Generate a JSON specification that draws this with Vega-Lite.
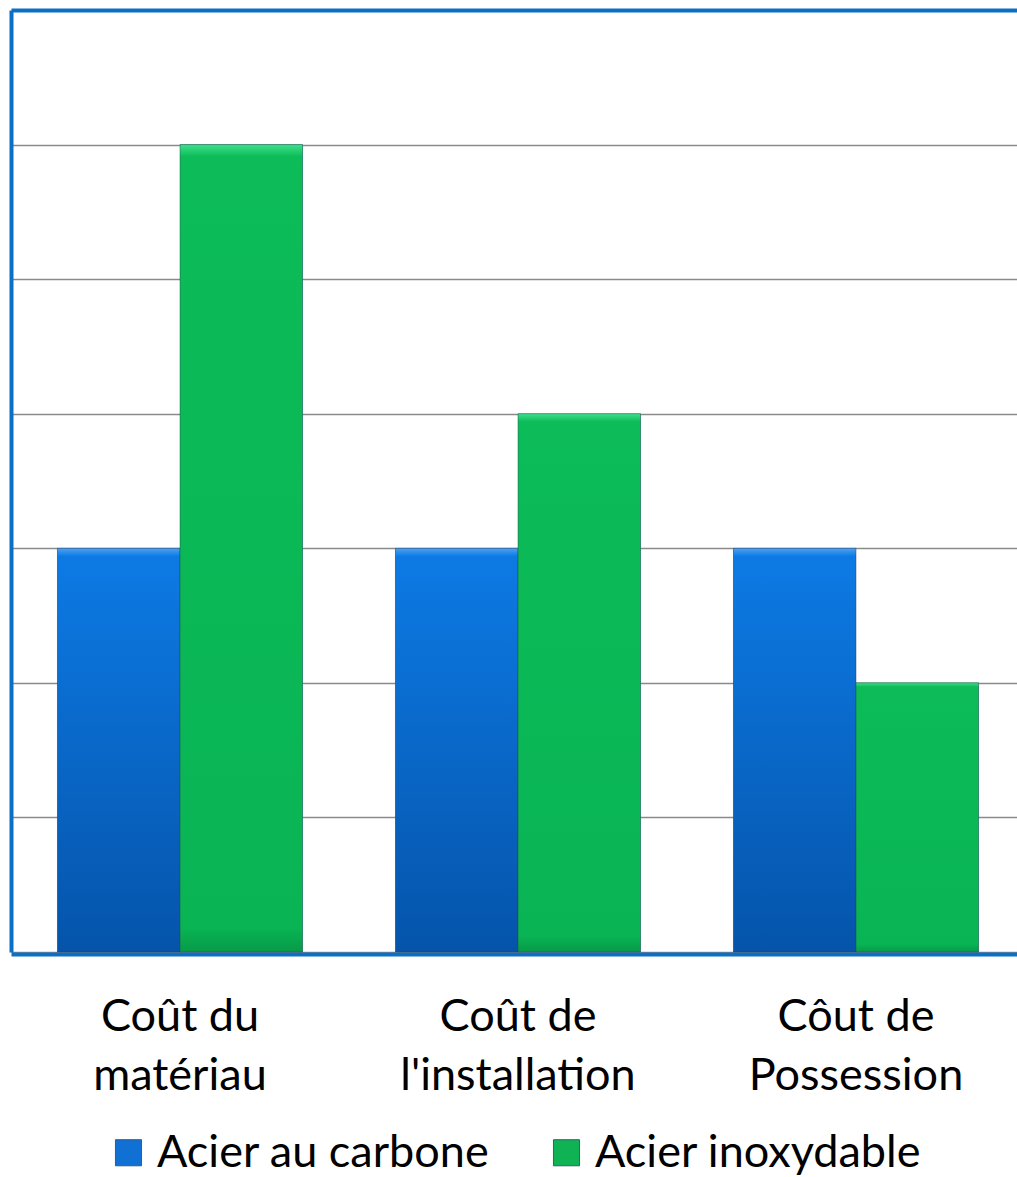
{
  "$schema": "https://vega.github.io/schema/vega-lite/v6.json",
  "width": 1006,
  "height": 942,
  "autosize": {"type": "none"},
  "padding": {"left": 11, "top": 10, "right": 0, "bottom": 225},
  "background": "white",
  "config": {
    "view": {"stroke": null},
    "font": "Lato",
    "legend": {"layout": {"bottom": {"anchor": "middle"}}}
  },
  "data": {
    "values": [
      {"cout": "Coût du matériau", "serie": "Acier au carbone", "valeur": 3},
      {"cout": "Coût du matériau", "serie": "Acier inoxydable", "valeur": 6},
      {"cout": "Coût de l'installation", "serie": "Acier au carbone", "valeur": 3},
      {"cout": "Coût de l'installation", "serie": "Acier inoxydable", "valeur": 4},
      {"cout": "Côut de Possession", "serie": "Acier au carbone", "valeur": 3},
      {"cout": "Côut de Possession", "serie": "Acier inoxydable", "valeur": 2}
    ]
  },
  "encoding": {
    "x": {
      "field": "cout",
      "type": "nominal",
      "sort": null,
      "scale": {"range": [0, 1014], "paddingInner": 0.275, "paddingOuter": 0.1375},
      "axis": {
        "title": null,
        "offset": 2,
        "domainColor": "#0b6fc4",
        "domainWidth": 4,
        "ticks": false,
        "grid": false,
        "labelAngle": 0,
        "labelFont": "Lato",
        "labelFontSize": 45,
        "labelColor": "#000000",
        "labelLimit": 0,
        "labelLineHeight": 59,
        "labelPadding": 40,
        "labelBaseline": "top",
        "labelExpr": "[slice(datum.label, 0, 7), slice(datum.label, 8)]"
      }
    },
    "xOffset": {"field": "serie", "sort": null, "scale": {"paddingInner": 0, "paddingOuter": 0}},
    "y": {
      "field": "valeur",
      "type": "quantitative",
      "scale": {"domain": [0, 7], "nice": false},
      "axis": {
        "title": null,
        "labels": false,
        "ticks": false,
        "values": [0, 1, 2, 3, 4, 5, 6, 7],
        "domainColor": "#0b6fc4",
        "domainWidth": 4,
        "grid": true,
        "gridOpacity": 1,
        "gridColor": {"condition": {"test": "datum.value === 7", "value": "#0b6fc4"}, "value": "#8a8a8a"},
        "gridWidth": {"condition": {"test": "datum.value === 7", "value": 4}, "value": 1.3}
      }
    }
  },
  "layer": [
    {
      "mark": {"type": "bar"},
      "encoding": {
        "color": {
          "field": "serie",
          "type": "nominal",
          "scale": {"range": ["#1170d4", "#10b354"]},
          "legend": {
            "orient": "bottom",
            "direction": "horizontal",
            "title": null,
            "labelFont": "Lato",
            "labelFontSize": 45,
            "labelColor": "#000000",
            "labelLimit": 0,
            "symbolType": "square",
            "symbolSize": 680,
            "symbolStrokeColor": "#3a5a7a",
            "symbolStrokeWidth": 1,
            "symbolOpacity": 1,
            "labelOffset": 6,
            "columnPadding": 54,
            "offset": 32
          }
        }
      }
    },
    {
      "mark": {"type": "bar", "stroke": "#24405a", "strokeOpacity": 0.45, "strokeWidth": 1},
      "encoding": {
        "fill": {
          "condition": {
            "test": "datum.serie === 'Acier au carbone'",
            "value": {
              "gradient": "linear", "x1": 0, "y1": 0, "x2": 0, "y2": 1,
              "stops": [
                {"offset": 0, "color": "#4da3f2"},
                {"offset": 0.02, "color": "#0d7ae4"},
                {"offset": 1, "color": "#0554aa"}
              ]
            }
          },
          "value": {
            "gradient": "linear", "x1": 0, "y1": 0, "x2": 0, "y2": 1,
            "stops": [
              {"offset": 0, "color": "#3fe08a"},
              {"offset": 0.015, "color": "#0cbc58"},
              {"offset": 0.97, "color": "#09b454"},
              {"offset": 1, "color": "#079a48"}
            ]
          }
        }
      }
    }
  ]
}
